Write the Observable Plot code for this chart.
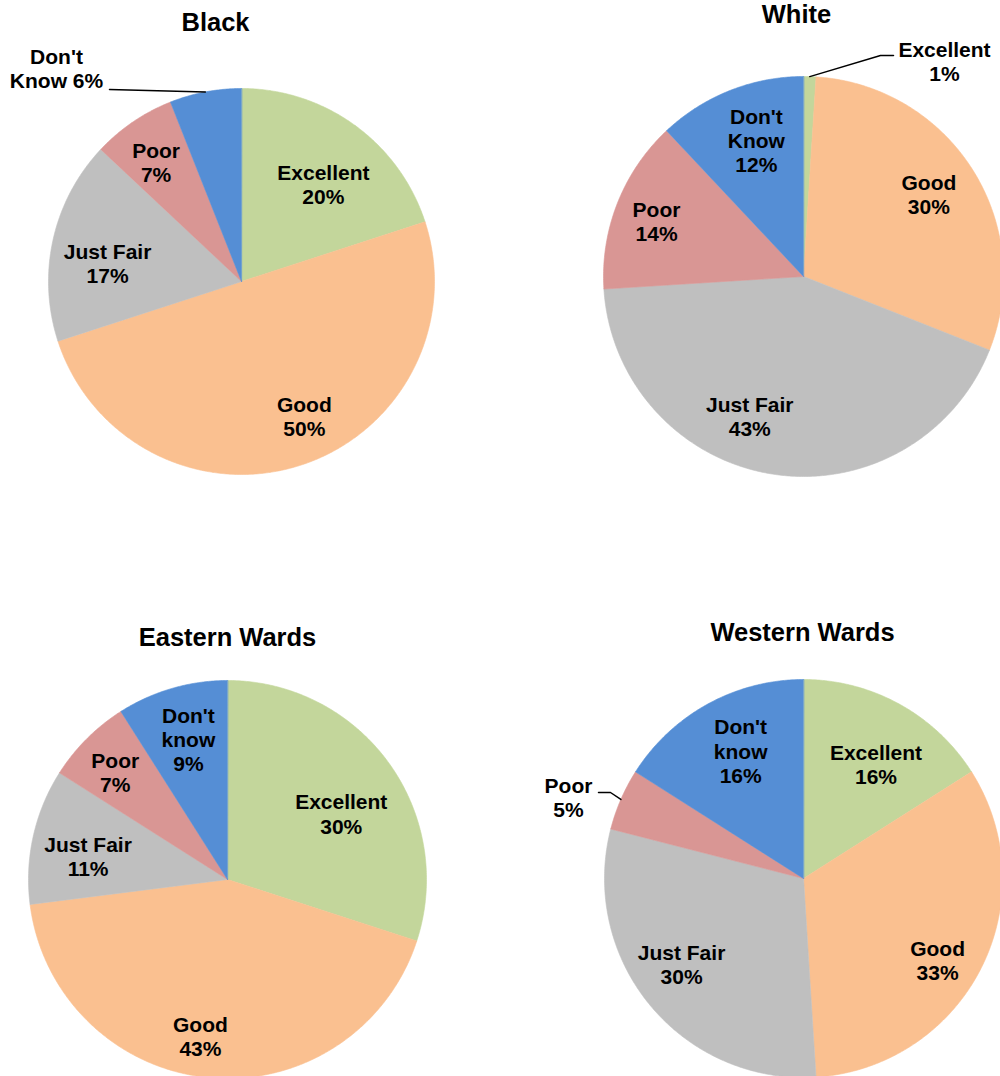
<!DOCTYPE html>
<html>
<head>
<meta charset="utf-8">
<script src="https://cdn.jsdelivr.net/npm/d3@7"></script>
<script src="https://cdn.jsdelivr.net/npm/@observablehq/plot@0.6"></script>
<style>
  html, body { margin: 0; padding: 0; background: #ffffff; }
  #chart { width: 1000px; height: 1076px; overflow: hidden; }
</style>
</head>
<body>
<div id="chart"></div>
<script>
// ---- Data ----
const categories = ["Excellent", "Good", "Just Fair", "Poor", "Don't Know"];
const colors = ["#C3D69B", "#FAC090", "#BFBFBF", "#D99694", "#558ED5"];

const titles = ["Black", "White", "Eastern Wards", "Western Wards"];

const blackValues   = [20, 50, 17, 7, 6];
const whiteValues   = [1, 30, 43, 14, 12];
const easternValues = [30, 43, 11, 7, 9];
const westernValues = [16, 33, 30, 5, 16];

const blackNames   = ["Excellent", "Good", "Just Fair", "Poor", "Don't\nKnow"];
const whiteNames   = ["Excellent", "Good", "Just Fair", "Poor", "Don't\nKnow"];
const easternNames = ["Excellent", "Good", "Just Fair", "Poor", "Don't\nknow"];
const westernNames = ["Excellent", "Good", "Just Fair", "Poor", "Don't\nknow"];

// ---- Layout (positions / sizes only) ----
const layout = [
  { values: blackValues, names: blackNames, cx: 241, cy: 281, r: 193, tx: 215, ty: 22,
    joins: ["\n", "\n", "\n", "\n", " "],
    label: [[4, 0.66], [-7, 0.77], [-5, 0.70], [-1.4, 0.76],
            { at: [-185, -213], leader: [[-132, -192]] }] },
  { values: whiteValues, names: whiteNames, cx: 803, cy: 276, r: 200, tx: 796, ty: 14,
    joins: ["\n", "\n", "\n", "\n", "\n"],
    label: [{ at: [141, -215], leader: [[90, -221], [77, -221]] },
            [-0.9, 0.75], [12, 0.75], [-1, 0.785], [2.5, 0.72]] },
  { values: easternValues, names: easternNames, cx: 227, cy: 879, r: 199, tx: 227, ty: 637,
    joins: ["\n", "\n", "\n", "\n", "\n"],
    label: [[6, 0.66], [4.4, 0.80], [-3.3, 0.71], [-1.3, 0.78], [0.6, 0.73]] },
  { values: westernValues, names: westernNames, cx: 803, cy: 878, r: 199, tx: 802, ty: 632,
    joins: ["\n", "\n", "\n", "\n", "\n"],
    label: [[3.6, 0.68], [4.5, 0.79], [4.4, 0.75],
            { at: [-235, -81], leader: [[-205, -86], [-193, -86]] },
            [2.6, 0.715]] }
];

// ---- Build mark data ----
const slicePts = [];
const labels = [];
const leaders = [];
const titleRows = [];
const rad = Math.PI / 180;

layout.forEach((p, pi) => {
  titleRows.push({ text: titles[pi], x: p.tx, y: p.ty });
  const total = d3.sum(p.values);
  let acc = 0;
  p.values.forEach((v, i) => {
    const a0 = acc / total * 2 * Math.PI;
    acc += v;
    const a1 = acc / total * 2 * Math.PI;
    const key = pi + "-" + i;
    const cat = categories[i];
    slicePts.push({ key, cat, x: p.cx, y: p.cy });
    const n = Math.max(2, Math.ceil((a1 - a0) / (Math.PI / 360)));
    for (let k = 0; k <= n; k++) {
      const a = a0 + (a1 - a0) * k / n;
      slicePts.push({ key, cat, x: p.cx + p.r * Math.sin(a), y: p.cy - p.r * Math.cos(a) });
    }
    const mid = (a0 + a1) / 2;
    const text = p.names[i] + p.joins[i] + v + "%";
    const L = p.label[i];
    if (Array.isArray(L)) {
      const a = mid + L[0] * rad;
      labels.push({ text, x: p.cx + L[1] * p.r * Math.sin(a), y: p.cy - L[1] * p.r * Math.cos(a) });
    } else {
      labels.push({ text, x: p.cx + L.at[0], y: p.cy + L.at[1] });
      L.leader.forEach(pt => leaders.push({ key, x: p.cx + pt[0], y: p.cy + pt[1] }));
      leaders.push({ key, x: p.cx + p.r * Math.sin(mid), y: p.cy - p.r * Math.cos(mid) });
    }
  });
});

const chart = Plot.plot({
  width: 1000,
  height: 1076,
  margin: 0,
  style: { fontFamily: "'Liberation Sans', Arial, Helvetica, sans-serif", background: "#ffffff" },
  x: { domain: [0, 1000], axis: null },
  y: { domain: [0, 1076], reverse: true, axis: null },
  color: { domain: categories, range: colors },
  marks: [
    Plot.line(slicePts, { x: "x", y: "y", z: "key", fill: "cat", stroke: "cat", strokeWidth: 0.6, curve: "linear-closed" }),
    Plot.line(leaders, { x: "x", y: "y", z: "key", stroke: "#000000", strokeWidth: 1.5, curve: "linear" }),
    Plot.text(labels, { x: "x", y: "y", text: "text", fontSize: 21, fontWeight: "bold", lineHeight: 1.15, fill: "#000000" }),
    Plot.text(titleRows, { x: "x", y: "y", text: "text", fontSize: 25.5, fontWeight: "bold", fill: "#000000" })
  ]
});

document.getElementById("chart").appendChild(chart);
</script>
</body>
</html>
